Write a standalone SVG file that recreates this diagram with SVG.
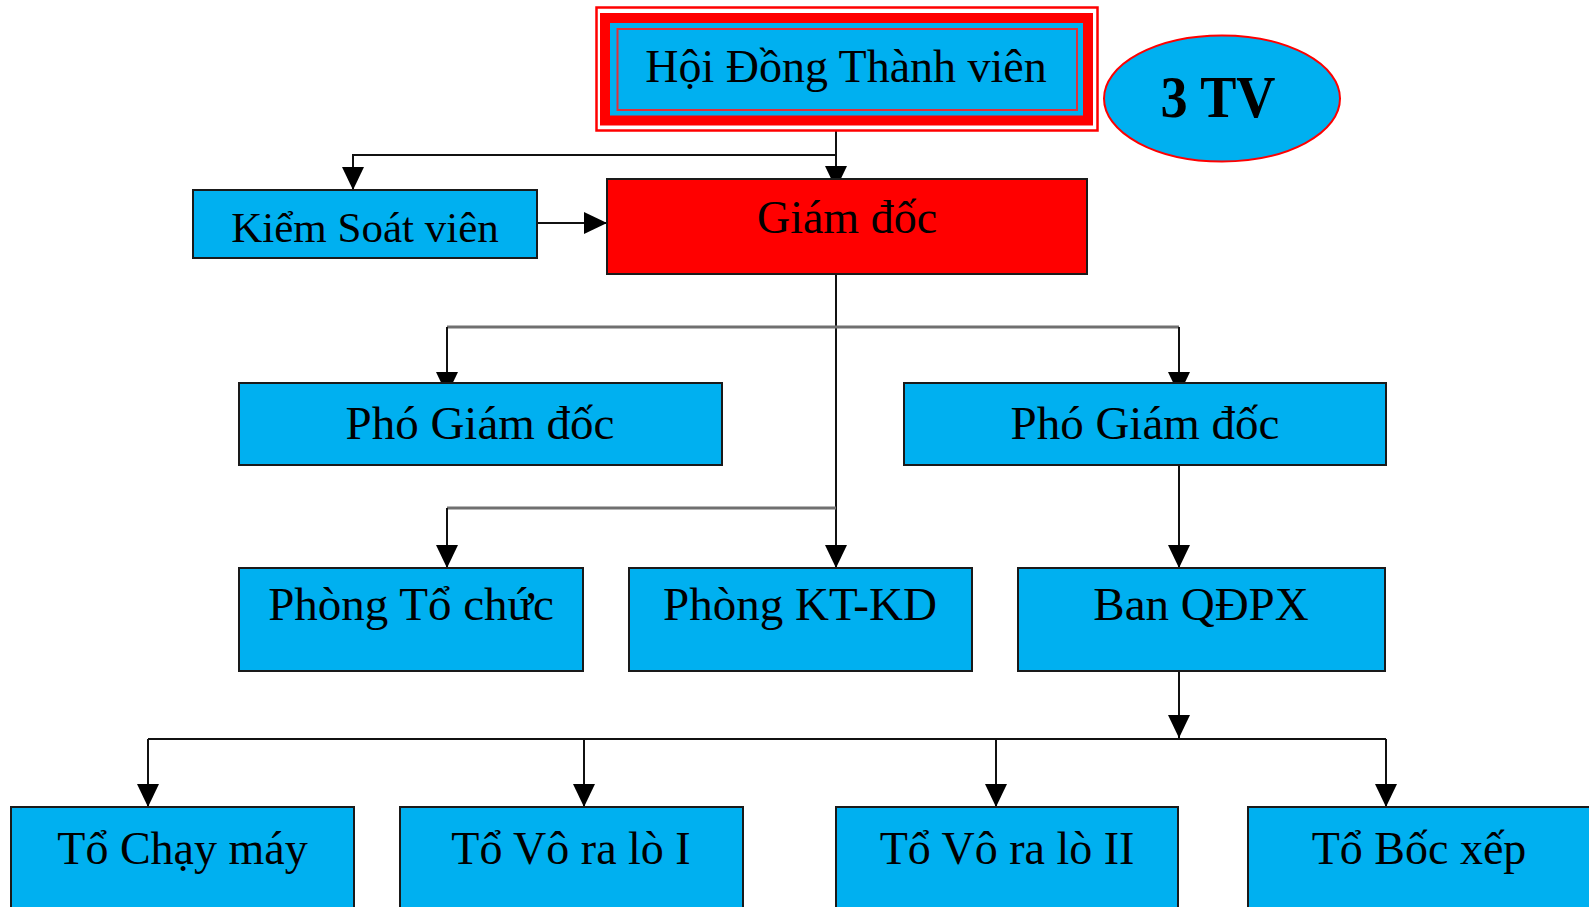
<svg xmlns="http://www.w3.org/2000/svg" width="1589" height="907" viewBox="0 0 1589 907">
<style>
.box{fill:#00B0F0;stroke:#1a1a1a;stroke-width:2}
.t{font-family:"Liberation Serif","Times New Roman",serif;fill:#000;text-anchor:middle}
.ln{fill:none;stroke:#111;stroke-width:2}
.gl{fill:none;stroke:#707070;stroke-width:3}
</style>
<defs>
<marker id="ar" markerWidth="23" markerHeight="22" refX="23" refY="11" orient="auto" markerUnits="userSpaceOnUse" viewBox="0 0 23 22">
<path d="M0,0 L23,11 L0,22 Z" fill="#000"/>
</marker>
</defs>
<rect width="1589" height="907" fill="#fff"/>

<g id="connectors">
<line class="ln" x1="836" y1="131" x2="836" y2="189" marker-end="url(#ar)"/>
<polyline class="ln" points="836,155 353,155 353,190" marker-end="url(#ar)"/>
<line class="ln" x1="537" y1="223" x2="607" y2="223" marker-end="url(#ar)"/>
<line class="ln" x1="836" y1="274" x2="836" y2="568" marker-end="url(#ar)"/>
<polyline class="gl" points="447,327 1179,327"/>
<line class="ln" x1="447" y1="327" x2="447" y2="395" marker-end="url(#ar)"/>
<line class="ln" x1="1179" y1="327" x2="1179" y2="395" marker-end="url(#ar)"/>
<polyline class="gl" points="447,508 836,508"/>
<line class="ln" x1="447" y1="508" x2="447" y2="568" marker-end="url(#ar)"/>
<line class="ln" x1="1179" y1="465" x2="1179" y2="568" marker-end="url(#ar)"/>
<line class="ln" x1="1179" y1="671" x2="1179" y2="738" marker-end="url(#ar)"/>
<polyline class="ln" points="148,739 1386,739"/>
<line class="ln" x1="148" y1="739" x2="148" y2="807" marker-end="url(#ar)"/>
<line class="ln" x1="584" y1="739" x2="584" y2="807" marker-end="url(#ar)"/>
<line class="ln" x1="996" y1="739" x2="996" y2="807" marker-end="url(#ar)"/>
<line class="ln" x1="1386" y1="739" x2="1386" y2="807" marker-end="url(#ar)"/>
</g>

<g id="hoi-dong">
<rect x="596.5" y="7.5" width="501" height="123" fill="#fff" stroke="#FF0000" stroke-width="2.5"/>
<rect x="605" y="18" width="483" height="102.5" fill="#00B0F0" stroke="#FF0000" stroke-width="10"/>
<rect x="617.5" y="29" width="459.5" height="81" fill="#00B0F0" stroke="#E0303A" stroke-width="2"/>
<text class="t" x="846" y="82" font-size="46">Hội Đồng Thành viên</text>
</g>

<g id="tv">
<ellipse cx="1222" cy="98.5" rx="118" ry="63" fill="#00B0F0" stroke="#FF0000" stroke-width="2"/>
<text class="t" x="1218" y="117" font-size="60" font-weight="bold" textLength="115" lengthAdjust="spacingAndGlyphs">3 TV</text>
</g>

<g id="kiem-soat">
<rect class="box" x="193" y="190" width="344" height="68"/>
<text class="t" x="365" y="242" font-size="43">Kiểm Soát viên</text>
</g>

<g id="giam-doc">
<rect x="607" y="179" width="480" height="95" fill="#FF0000" stroke="#1a1a1a" stroke-width="2"/>
<text class="t" x="847" y="233" font-size="46">Giám đốc</text>
</g>

<g id="pho-gd-1">
<rect class="box" x="239" y="383" width="483" height="82"/>
<text class="t" x="480" y="439" font-size="47">Phó Giám đốc</text>
</g>

<g id="pho-gd-2">
<rect class="box" x="904" y="383" width="482" height="82"/>
<text class="t" x="1145" y="439" font-size="47">Phó Giám đốc</text>
</g>

<g id="phong-to-chuc">
<rect class="box" x="239" y="568" width="344" height="103"/>
<text class="t" x="411" y="620" font-size="47">Phòng Tổ chức</text>
</g>

<g id="phong-kt-kd">
<rect class="box" x="629" y="568" width="343" height="103"/>
<text class="t" x="800" y="620" font-size="47">Phòng KT-KD</text>
</g>

<g id="ban-qdpx">
<rect class="box" x="1018" y="568" width="367" height="103"/>
<text class="t" x="1201" y="620" font-size="47">Ban QĐPX</text>
</g>

<g id="to-chay-may">
<rect class="box" x="11" y="807" width="343" height="120"/>
<text class="t" x="182.5" y="864" font-size="46">Tổ Chạy máy</text>
</g>

<g id="to-vo-ra-lo-1">
<rect class="box" x="400" y="807" width="343" height="120"/>
<text class="t" x="571" y="864" font-size="46">Tổ Vô ra lò I</text>
</g>

<g id="to-vo-ra-lo-2">
<rect class="box" x="836" y="807" width="342" height="120"/>
<text class="t" x="1007" y="864" font-size="46">Tổ Vô ra lò II</text>
</g>

<g id="to-boc-xep">
<rect class="box" x="1248" y="807" width="360" height="120"/>
<text class="t" x="1419" y="864" font-size="46">Tổ Bốc xếp</text>
</g>
</svg>
